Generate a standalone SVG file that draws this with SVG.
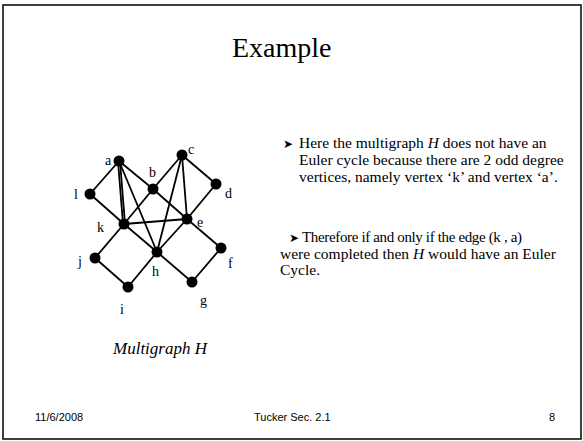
<svg xmlns="http://www.w3.org/2000/svg" width="583" height="441" viewBox="0 0 583 441">
<style>
.serif{font-family:"Liberation Serif","Times New Roman",serif;fill:#000}
.sans{font-family:"Liberation Sans",Arial,sans-serif;fill:#000}
.lbl{font-family:"Liberation Serif","Times New Roman",serif;font-size:14px;fill:#000}
.body{font-family:"Liberation Serif","Times New Roman",serif;font-size:15.5px;fill:#000}
.edge{stroke:#000;stroke-width:1.8;fill:none}
.v{fill:#000}
</style>
<rect x="0" y="0" width="583" height="441" fill="#fff"/>
<rect x="3" y="5" width="578" height="434" fill="none" stroke="#111" stroke-width="1.6"/>
<text class="serif" x="232" y="57" font-size="28">Example</text>

<g id="connectors">
<line class="edge" x1="119" y1="161" x2="90" y2="194"/>
<line class="edge" x1="119" y1="161" x2="153" y2="189"/>
<line class="edge" x1="118" y1="161" x2="123" y2="224"/>
<line class="edge" x1="120" y1="161" x2="125" y2="224"/>
<line class="edge" x1="119" y1="161" x2="157" y2="252"/>
<line class="edge" x1="90" y1="194" x2="124" y2="224"/>
<line class="edge" x1="153" y1="189" x2="182" y2="155"/>
<line class="edge" x1="153" y1="189" x2="124" y2="224"/>
<line class="edge" x1="153" y1="189" x2="187" y2="219"/>
<line class="edge" x1="182" y1="155" x2="216" y2="184"/>
<line class="edge" x1="182" y1="155" x2="187" y2="219"/>
<line class="edge" x1="182" y1="155" x2="157" y2="252"/>
<line class="edge" x1="216" y1="184" x2="187" y2="219"/>
<line class="edge" x1="124" y1="224" x2="187" y2="219"/>
<line class="edge" x1="124" y1="224" x2="157" y2="252"/>
<line class="edge" x1="124" y1="224" x2="95" y2="258"/>
<line class="edge" x1="187" y1="219" x2="157" y2="252"/>
<line class="edge" x1="187" y1="219" x2="221" y2="248"/>
<line class="edge" x1="95" y1="258" x2="128" y2="287"/>
<line class="edge" x1="128" y1="287" x2="157" y2="252"/>
<line class="edge" x1="157" y1="252" x2="192" y2="282"/>
<line class="edge" x1="192" y1="282" x2="221" y2="248"/>
</g>

<g id="node-a"><circle class="v" cx="119" cy="161" r="5.5"/><text class="lbl" x="105" y="165">a</text></g>
<g id="node-b"><circle class="v" cx="153" cy="189" r="5.5"/><text class="lbl" x="149" y="177">b</text></g>
<g id="node-c"><circle class="v" cx="182" cy="155" r="5.5"/><text class="lbl" x="188" y="154">c</text></g>
<g id="node-d"><circle class="v" cx="216" cy="184" r="5.5"/><text class="lbl" x="225" y="198">d</text></g>
<g id="node-e"><circle class="v" cx="187" cy="219" r="5.5"/><text class="lbl" x="197" y="227">e</text></g>
<g id="node-f"><circle class="v" cx="221" cy="248" r="5.5"/><text class="lbl" x="228" y="268">f</text></g>
<g id="node-g"><circle class="v" cx="192" cy="282" r="5.5"/><text class="lbl" x="200" y="305">g</text></g>
<g id="node-h"><circle class="v" cx="157" cy="252" r="5.5"/><text class="lbl" x="152" y="276">h</text></g>
<g id="node-i"><circle class="v" cx="128" cy="287" r="5.5"/><text class="lbl" x="120" y="314">i</text></g>
<g id="node-j"><circle class="v" cx="95" cy="258" r="5.5"/><text class="lbl" x="78" y="266">j</text></g>
<g id="node-k"><circle class="v" cx="124" cy="224" r="5.5"/><text class="lbl" x="97" y="232">k</text></g>
<g id="node-l"><circle class="v" cx="90" cy="194" r="5.5"/><text class="lbl" x="74" y="199">l</text></g>

<g id="text-para1" class="body">
<text x="283" y="148" font-size="12">➤</text>
<text x="299" y="148">Here the multigraph <tspan font-style="italic">H</tspan> does not have an</text>
<text x="299" y="165">Euler cycle because there are 2 odd degree</text>
<text x="299" y="182">vertices, namely vertex ‘k’ and vertex ‘a’.</text>
</g>
<g id="text-para2" class="body">
<text x="289" y="242" font-size="12">➤</text>
<text x="302" y="242" font-size="15" textLength="220">Therefore if and only if the edge (k , a)</text>
<text x="280" y="259">were completed then <tspan font-style="italic">H</tspan> would have an Euler</text>
<text x="280" y="275">Cycle.</text>
</g>

<text class="serif" x="113" y="354" font-size="17" font-style="italic">Multigraph H</text>

<g id="footer" class="sans" font-size="11">
<text x="35" y="421">11/6/2008</text>
<text x="254" y="421">Tucker Sec. 2.1</text>
<text x="549" y="421">8</text>
</g>
</svg>
